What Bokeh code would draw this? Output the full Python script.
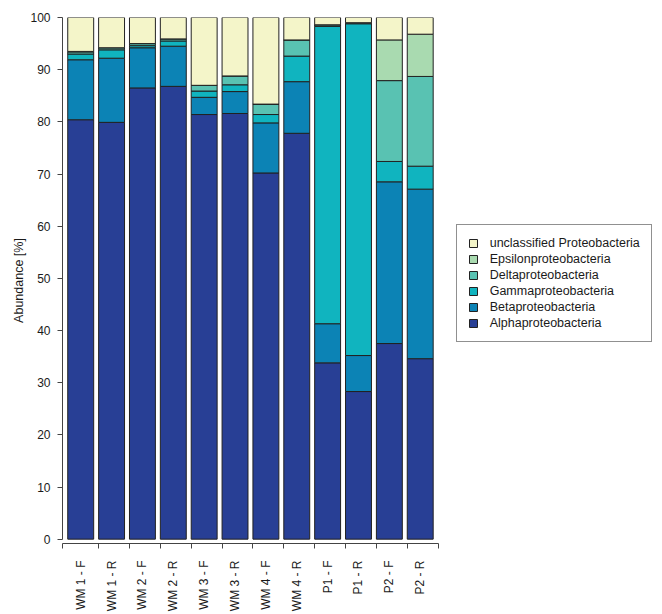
import math
from bokeh.plotting import figure
from bokeh.models import ColumnDataSource, Range1d, FixedTicker, Legend, LegendItem
from bokeh.embed import file_html
from bokeh.resources import INLINE

# ---- data ----
samples = ["WM 1 - F", "WM 1 - R", "WM 2 - F", "WM 2 - R", "WM 3 - F", "WM 3 - R",
           "WM 4 - F", "WM 4 - R", "P1 - F", "P1 - R", "P2 - F", "P2 - R"]
alpha = [80.4, 79.9, 86.5, 86.8, 81.4, 81.6, 70.2, 77.8, 33.8, 28.3, 37.5, 34.6]
beta = [11.5, 12.3, 7.7, 7.7, 3.3, 4.2, 9.6, 9.9, 7.5, 6.9, 31.0, 32.5]
gamma = [1.1, 1.6, 0.4, 1.0, 1.2, 1.3, 1.6, 4.9, 57.0, 63.6, 3.9, 4.4]
delta = [0.4, 0.4, 0.4, 0.4, 1.1, 1.7, 2.0, 3.1, 0.3, 0.2, 15.5, 17.2]
epsilon = [0.1, 0.0, 0.0, 0.0, 0.0, 0.0, 0.0, 0.0, 0.0, 0.0, 7.8, 8.1]
unclassified = [6.5, 5.8, 5.0, 4.1, 13.0, 11.2, 16.6, 4.3, 1.4, 1.0, 4.3, 3.2]

series_names = ["Alphaproteobacteria", "Betaproteobacteria", "Gammaproteobacteria",
                "Deltaproteobacteria", "Epsilonproteobacteria", "unclassified Proteobacteria"]
series_keys = ["alpha", "beta", "gamma", "delta", "epsilon", "unclassified"]
colors = ["#283f95", "#0c83b5", "#10b4bf", "#59c2b2", "#a9dab0", "#f4f5c9"]
y_ticks = list(range(0, 101, 10))

FONT = "Liberation Sans"
TXT = "#1a1a1a"
bar_w = 0.84
x_lo, x_hi = -0.59, 11.6   # extent of the drawn x axis line

source = ColumnDataSource(dict(
    x=list(range(len(samples))),
    alpha=alpha, beta=beta, gamma=gamma, delta=delta,
    epsilon=epsilon, unclassified=unclassified,
))

# frame spans to the right edge so that the legend can sit inside it
p = figure(width=662, height=614, output_backend="svg", toolbar_location=None,
           x_range=Range1d(x_lo, 18.72), y_range=Range1d(-0.83, 100),
           min_border_left=62, min_border_right=4, min_border_top=17,
           min_border_bottom=71)
p.outline_line_color = None
p.xgrid.grid_line_color = None
p.ygrid.grid_line_color = None
p.background_fill_color = "white"
p.border_fill_color = "white"

renderers = p.vbar_stack(series_keys, x="x", width=bar_w, source=source,
                         fill_color=colors, line_color="#222222", line_width=1)

# x axis: labels at bar centres, tick marks at bar boundaries
n = len(samples)
bounds_ticks = [x_lo + 0.001] + [i - bar_w / 2 for i in range(1, n)] + [x_hi - 0.001]
xa = p.xaxis[0]
xa.bounds = (x_lo, x_hi)
xa.ticker = FixedTicker(ticks=list(range(n)), minor_ticks=bounds_ticks)
xa.major_label_overrides = {i: s for i, s in enumerate(samples)}
xa.major_tick_out = 0
xa.major_tick_in = 0
xa.minor_tick_out = 5
xa.minor_tick_in = 0
xa.major_label_orientation = math.pi / 2
xa.major_label_standoff = 12
xa.major_label_text_font = FONT
xa.major_label_text_font_size = "12px"
xa.major_label_text_color = TXT
xa.axis_line_color = "#444444"
xa.minor_tick_line_color = "#444444"

# y axis
ya = p.yaxis[0]
ya.ticker = FixedTicker(ticks=y_ticks)
ya.bounds = (0, 100)
ya.major_tick_out = 5
ya.major_tick_in = 0
ya.minor_tick_line_color = None
ya.major_label_standoff = 7
ya.major_label_text_font = FONT
ya.major_label_text_font_size = "12px"
ya.major_label_text_color = TXT
ya.axis_label = "Abundance [%]"
ya.axis_label_text_font = FONT
ya.axis_label_text_font_size = "12.5px"
ya.axis_label_text_font_style = "normal"
ya.axis_label_text_color = TXT
ya.axis_label_standoff = 1
ya.axis_line_color = "#444444"
ya.major_tick_line_color = "#444444"

items = [LegendItem(label=name, renderers=[r]) for name, r in zip(series_names, renderers)][::-1]
legend = Legend(items=items, location=(393.7, 201.4), margin=0, padding=11,
                glyph_width=10, glyph_height=10, label_height=14, spacing=2,
                label_standoff=12, label_text_font=FONT, label_text_font_size="12.5px",
                label_text_color=TXT, border_line_color="#222222", border_line_width=1,
                background_fill_color="white", background_fill_alpha=1.0)
p.add_layout(legend, "center")

with open("out.html", "w") as f:
    f.write(file_html(p, INLINE))
